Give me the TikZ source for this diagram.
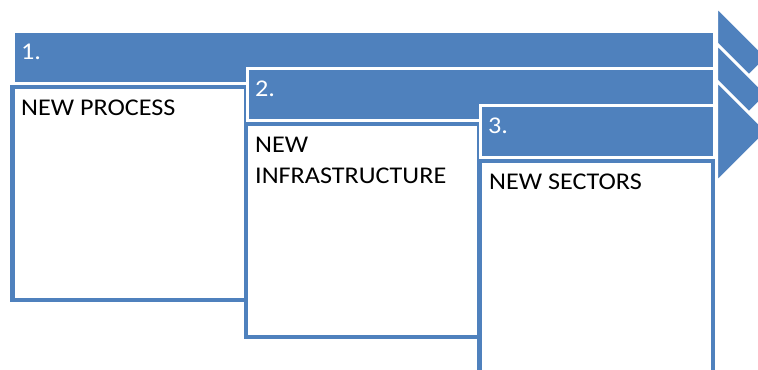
\documentclass[tikz,border=0pt]{standalone}
\usepackage{fontspec}
\setmainfont{Carlito}[FakeStretch=1.09]
\definecolor{stepblue}{HTML}{4F81BD}
\begin{document}
\begin{tikzpicture}[x=1bp, y=-1bp,
  bar/.style={fill=stepblue, draw=white, line width=3bp},
  head/.style={fill=stepblue, draw=white, line width=3bp, line join=miter},
  panel/.style={fill=white, draw=stepblue, line width=4.5bp},
  steptext/.style={anchor=base west, inner sep=0pt, align=left,
    font=\fontsize{24.1pt}{30.6pt}\selectfont},
  num/.style={steptext, text=white},
  label/.style={steptext, text=black}]
\useasboundingbox (0,0) rectangle (758,369);
\clip (0,0) rectangle (758,369);

% three staggered steps: banner bar, arrow head, then the panel below
\foreach \bx/\by in {12.5/0, 246/37, 479.5/74}{
  \path[bar] (\bx+1, 31.5+\by) rectangle (714.5, 83.5+\by);
  \path[head] (716.5, 6.4+\by) -- (767.6, 57.5+\by) -- (716.5, 108.6+\by) -- cycle;
  \path[panel] (\bx, 87+\by) rectangle (\bx+233.5, 300+\by);
}

% step numbers on the banners
\node[num] (n1) at (21, 59) {1.};
\node[num] (n2) at (255, 96) {2.};
\node[num] (n3) at (488, 133) {3.};

% panel titles (a two-line node sits on the baseline of its last line)
\node[label] (t1) at (21, 115) {NEW PROCESS};
\node[label] (t2) at (255, 183) {NEW\\INFRASTRUCTURE};
\node[label] (t3) at (489, 189) {NEW SECTORS};
\end{tikzpicture}
\end{document}
